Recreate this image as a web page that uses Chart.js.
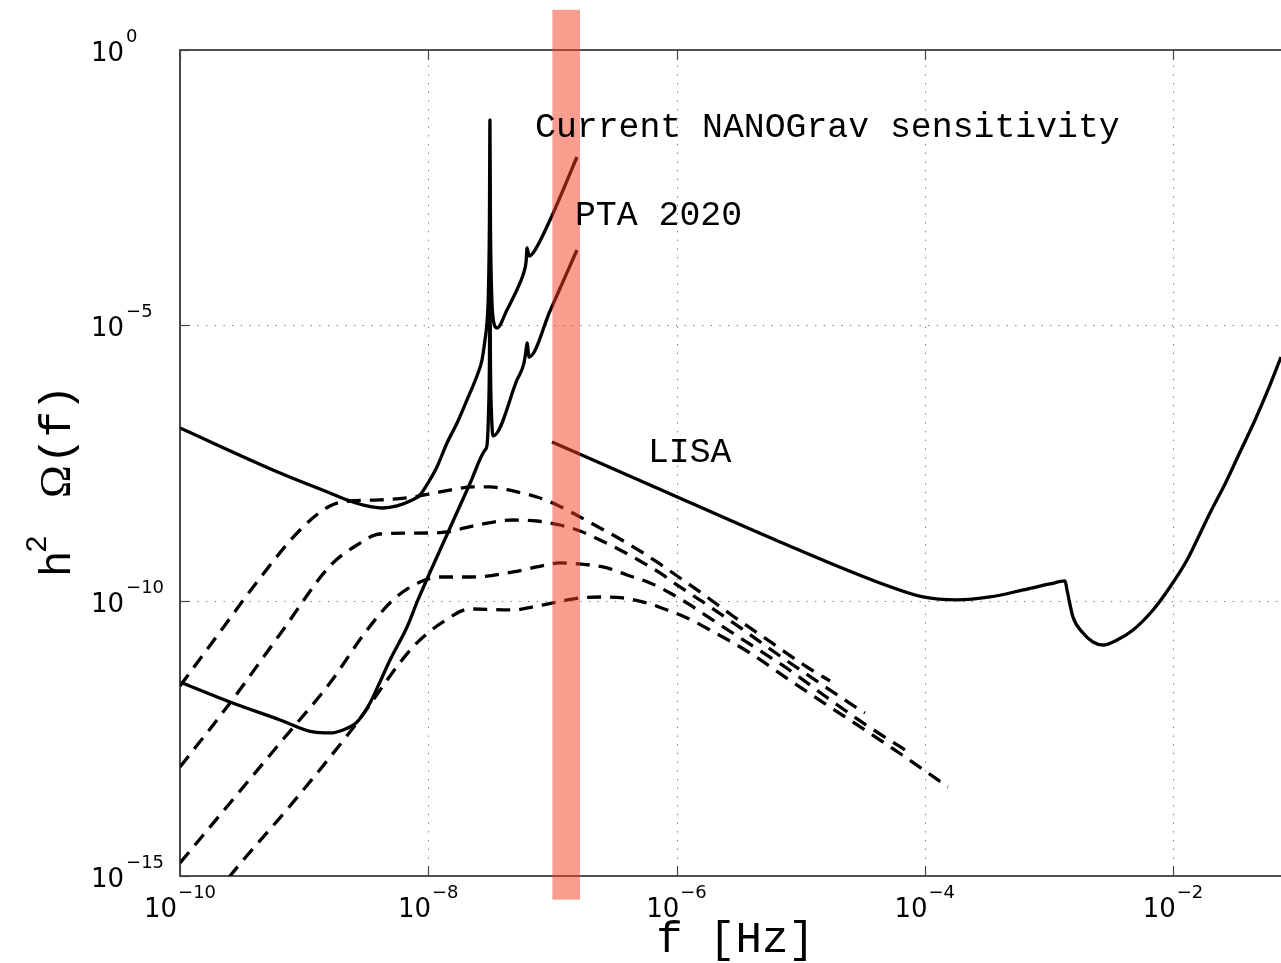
<!DOCTYPE html>
<html>
<head>
<meta charset="utf-8">
<script src="https://cdn.jsdelivr.net/npm/chart.js@4.4.1/dist/chart.umd.min.js"></script>
<style>
  html, body { margin: 0; padding: 0; background: #fff; overflow: hidden; }
  #wrap { position: relative; width: 1281px; height: 963px; }
</style>
</head>
<body>
<div id="wrap"><canvas id="c"></canvas></div>
<script>
// Curves as log10 f [Hz] and log10 h^2 Omega(f)

// Current NANOGrav sensitivity
const nanogravLogF = [-10.000, -9.194, -8.792, -8.630, -8.493, -8.365, -8.252, -8.147, -8.066, -8.002,
  -7.930, -7.849, -7.768, -7.688, -7.599, -7.567, -7.543, -7.527, -7.515, -7.507, -7.503, -7.499,
  -7.490, -7.478, -7.446, -7.366, -7.261, -7.229, -7.212, -7.204, -7.188, -7.156, -7.019, -6.802];
const nanogravLogOmega = [-6.864, -7.681, -8.044, -8.190, -8.280, -8.317, -8.280, -8.190, -8.081, -7.863,
  -7.572, -7.136, -6.773, -6.355, -5.865, -5.629, -5.266, -4.957, -4.358, -3.087, -1.271, -3.087,
  -4.358, -4.867, -5.048, -4.721, -4.231, -4.031, -3.850, -3.595, -3.741, -3.686, -3.087, -1.943];

// PTA 2020
const ptaLogF = [-10.000, -9.597, -9.194, -8.928, -8.792, -8.687, -8.574, -8.469, -8.389, -8.308,
  -8.171, -8.083, -7.825, -7.664, -7.543, -7.527, -7.515, -7.507, -7.503, -7.499, -7.490, -7.478,
  -7.285, -7.229, -7.212, -7.204, -7.188, -7.019, -6.802];
const ptaLogOmega = [-11.476, -11.840, -12.166, -12.384, -12.402, -12.348, -12.203, -11.858, -11.476, -11.077,
  -10.478, -9.987, -8.680, -7.872, -7.264, -7.182, -6.628, -5.629, -3.813, -5.629, -6.628, -7.009,
  -5.992, -5.684, -5.448, -5.320, -5.575, -4.739, -3.632];

// LISA
const lisaLogF = [-7.003, -6.213, -5.166, -4.361, -4.014, -3.740, -3.474, -3.208, -2.991, -2.870,
  -2.854, -2.806, -2.725, -2.645, -2.564, -2.451, -2.322, -2.161, -2.024, -1.887, -1.807, -1.702,
  -1.581, -1.460, -1.339, -1.235, -1.130];
const lisaLogOmega = [-7.118, -7.899, -8.934, -9.679, -9.933, -9.987, -9.933, -9.806, -9.697, -9.642,
  -9.806, -10.296, -10.587, -10.750, -10.805, -10.714, -10.532, -10.169, -9.751, -9.261, -8.898, -8.407,
  -7.881, -7.300, -6.719, -6.174, -5.575];

// Phase-transition spectra (dashed)
const spec1LogF = [-10.000, -9.678, -9.355, -9.033, -8.792, -8.630, -8.389, -8.123, -7.905, -7.639,
  -7.503, -7.317, -7.124, -6.963, -6.777, -6.616, -6.455, -6.294, -6.133, -5.972, -5.811, -5.545,
  -5.231, -4.924, -4.763];
const spec1LogOmega = [-11.549, -10.568, -9.588, -8.716, -8.280, -8.190, -8.171, -8.117, -8.026, -7.935,
  -7.935, -8.008, -8.117, -8.262, -8.480, -8.680, -8.880, -9.098, -9.334, -9.588, -9.842, -10.278,
  -10.768, -11.241, -11.458];

const spec2LogF = [-10.000, -9.597, -9.170, -8.792, -8.574, -8.389, -8.010, -7.849, -7.607, -7.317,
  -7.124, -6.939, -6.777, -6.616, -6.455, -6.294, -6.133, -5.972, -5.787, -5.472, -5.166, -4.860,
  -4.546, -4.481];
const spec2LogOmega = [-13.020, -11.858, -10.532, -9.370, -8.989, -8.789, -8.771, -8.752, -8.626, -8.535,
  -8.553, -8.626, -8.734, -8.898, -9.079, -9.279, -9.497, -9.751, -10.024, -10.514, -11.005, -11.476,
  -11.948, -12.039];

const spec3LogF = [-10.000, -9.597, -9.194, -8.792, -8.493, -8.284, -8.066, -7.905, -7.639, -7.317,
  -7.124, -6.939, -6.777, -6.560, -6.399, -6.213, -6.052, -5.891, -5.746, -5.424, -5.102, -4.804,
  -4.497, -4.183, -4.119];
const spec3LogOmega = [-14.763, -13.674, -12.584, -11.495, -10.532, -9.987, -9.661, -9.570, -9.570, -9.479,
  -9.388, -9.315, -9.334, -9.406, -9.533, -9.679, -9.860, -10.078, -10.296, -10.768, -11.241, -11.731,
  -12.221, -12.675, -12.766];

const spec4LogF = [-9.718, -9.597, -9.114, -8.606, -8.123, -7.881, -7.664, -7.317, -7.156, -6.963,
  -6.777, -6.616, -6.431, -6.238, -6.076, -5.915, -5.730, -5.408, -5.102, -4.788, -4.481, -4.159, -3.813];
const spec4LogOmega = [-15.362, -15.000, -13.728, -12.312, -10.841, -10.387, -10.151, -10.169, -10.114, -10.024,
  -9.951, -9.933, -9.951, -10.042, -10.169, -10.314, -10.532, -10.950, -11.422, -11.894, -12.348, -12.838, -13.383];

// Axis ranges and ticks (decade exponents)
const xRangeLog = [-10, -1.13];
const yRangeLog = [-15, 0];
const xTickExponents = [-10, -8, -6, -4, -2];
const yTickExponents = [0, -5, -10, -15];

// Highlighted frequency band [Hz] and its vertical reach in Omega
const bandFreq = [1.0e-7, 1.67e-7];
const bandOmegaLog = [0.73, -15.43];

// Curve labels: text, log10 f of the left edge, log10 Omega of the baseline
const curveLabels = [
  { text: 'Current NANOGrav sensitivity', logF: -7.140, logOmega: -1.580 },
  { text: 'PTA 2020', logF: -6.818, logOmega: -3.178 },
  { text: 'LISA', logF: -6.230, logOmega: -7.481 }
];

const xTitle = 'f [Hz]';
const yTitleParts = ['h', '2', '\u03A9', '(f)'];

const toPoints = (lf, lo) => lf.map((v, i) => ({ x: Math.pow(10, v), y: Math.pow(10, lo[i]) }));

const MONO = "'Liberation Mono', 'Courier New', monospace";
const SERIF = "'Liberation Serif', 'DejaVu Serif', serif";
const SANS = "'DejaVu Sans', sans-serif";

function solid(points) {
  return {
    data: points, borderColor: '#000', borderWidth: 3.3, pointRadius: 0,
    cubicInterpolationMode: 'monotone', borderJoinStyle: 'round', borderCapStyle: 'butt', fill: false
  };
}
function dashed(points) {
  return Object.assign(solid(points), { borderDash: [14, 9] });
}

const decorations = {
  id: 'decorations',
  beforeDatasetsDraw(chart) {
    const { ctx, chartArea: a, scales: { x, y } } = chart;
    ctx.save();
    ctx.strokeStyle = 'rgba(0,0,0,0.55)';
    ctx.lineWidth = 1;
    ctx.setLineDash([1.3, 7.4]);
    xTickExponents.forEach(e => {
      const px = Math.round(x.getPixelForValue(Math.pow(10, e))) + 0.5;
      if (px <= a.left + 2) return;
      ctx.beginPath(); ctx.moveTo(px, a.bottom); ctx.lineTo(px, a.top); ctx.stroke();
    });
    yTickExponents.forEach(e => {
      const py = Math.round(y.getPixelForValue(Math.pow(10, e))) + 0.5;
      if (py <= a.top + 2 || py >= a.bottom - 2) return;
      ctx.beginPath(); ctx.moveTo(a.left, py); ctx.lineTo(a.right, py); ctx.stroke();
    });
    ctx.restore();
  },
  afterDatasetsDraw(chart) {
    const { ctx, chartArea: a, scales: { x, y } } = chart;
    ctx.save();
    // axes box
    ctx.setLineDash([]);
    ctx.strokeStyle = '#1a1a1a';
    ctx.lineWidth = 1.6;
    ctx.beginPath();
    ctx.moveTo(a.right + 2, a.top); ctx.lineTo(a.left, a.top); ctx.lineTo(a.left, a.bottom); ctx.lineTo(a.right + 2, a.bottom);
    ctx.stroke();
    // inward tick marks
    ctx.strokeStyle = '#444';
    ctx.lineWidth = 1.2;
    const tl = 10;
    xTickExponents.forEach(e => {
      const px = Math.round(x.getPixelForValue(Math.pow(10, e))) + 0.5;
      ctx.beginPath(); ctx.moveTo(px, a.bottom); ctx.lineTo(px, a.bottom - tl);
      ctx.moveTo(px, a.top); ctx.lineTo(px, a.top + tl); ctx.stroke();
    });
    yTickExponents.forEach(e => {
      const py = Math.round(y.getPixelForValue(Math.pow(10, e))) + 0.5;
      ctx.beginPath(); ctx.moveTo(a.left, py); ctx.lineTo(a.left + tl, py); ctx.stroke();
    });
    // highlighted band
    const bx0 = x.getPixelForValue(bandFreq[0]);
    const bx1 = x.getPixelForValue(bandFreq[1]);
    const by0 = y.getPixelForValue(Math.pow(10, bandOmegaLog[0]));
    const by1 = y.getPixelForValue(Math.pow(10, bandOmegaLog[1]));
    ctx.fillStyle = 'rgba(245, 60, 30, 0.5)';
    ctx.fillRect(bx0, by0, bx1 - bx0, by1 - by0);

    // curve labels
    ctx.fillStyle = '#000';
    ctx.font = '34.8px ' + MONO;
    ctx.textAlign = 'left';
    ctx.textBaseline = 'alphabetic';
    curveLabels.forEach(l => {
      ctx.fillText(l.text, x.getPixelForValue(Math.pow(10, l.logF)), y.getPixelForValue(Math.pow(10, l.logOmega)));
    });

    // tick labels: 10 with raised exponent
    const big = '26px ' + SANS, small = '18px ' + SANS;
    const expText = e => (e < 0 ? '\u2212' + (-e) : String(e));
    xTickExponents.forEach(e => {
      const px = x.getPixelForValue(Math.pow(10, e));
      ctx.font = big; const w1 = ctx.measureText('10').width;
      ctx.font = small; const w2 = ctx.measureText(expText(e)).width;
      const x0 = px - (w1 + 1 + w2) / 2;
      ctx.font = big; ctx.fillText('10', x0, a.bottom + 41);
      ctx.font = small; ctx.fillText(expText(e), x0 + w1 + 1, a.bottom + 22);
    });
    yTickExponents.forEach(e => {
      const py = y.getPixelForValue(Math.pow(10, e));
      const x0 = 91;
      ctx.font = big; const w1 = ctx.measureText('10').width;
      ctx.fillText('10', x0, py + 11);
      ctx.font = small; ctx.fillText(expText(e), x0 + w1 + 2, py - 8);
    });

    // axis titles
    ctx.font = '44px ' + MONO;
    ctx.textAlign = 'center';
    ctx.fillText(xTitle, (a.left + a.right) / 2 + 5, a.bottom + 76);

    ctx.save();
    ctx.translate(70, (a.top + a.bottom) / 2 + 114);
    ctx.rotate(-Math.PI / 2);
    ctx.textAlign = 'left';
    ctx.font = '44px ' + MONO;
    ctx.fillText(yTitleParts[0], 0, 0);
    ctx.font = '30px ' + MONO;
    ctx.fillText(yTitleParts[1], 24, -24);
    ctx.font = '44px ' + SERIF;
    ctx.fillText(yTitleParts[2], 79, 0);
    ctx.font = '44px ' + MONO;
    ctx.fillText(yTitleParts[3], 113, 0);
    ctx.restore();

    ctx.restore();
  }
};

new Chart(document.getElementById('c'), {
  type: 'line',
  data: {
    datasets: [
      solid(toPoints(nanogravLogF, nanogravLogOmega)),
      solid(toPoints(ptaLogF, ptaLogOmega)),
      solid(toPoints(lisaLogF, lisaLogOmega)),
      dashed(toPoints(spec1LogF, spec1LogOmega)),
      dashed(toPoints(spec2LogF, spec2LogOmega)),
      dashed(toPoints(spec3LogF, spec3LogOmega)),
      dashed(toPoints(spec4LogF, spec4LogOmega))
    ]
  },
  options: {
    responsive: true,
    maintainAspectRatio: false,
    animation: false,
    events: [],
    layout: { padding: { left: 180, top: 50, right: 0, bottom: 87 } },
    plugins: { legend: { display: false }, tooltip: { enabled: false } },
    scales: {
      x: { type: 'logarithmic', display: false, min: Math.pow(10, xRangeLog[0]), max: Math.pow(10, xRangeLog[1]) },
      y: { type: 'logarithmic', display: false, min: Math.pow(10, yRangeLog[0]), max: Math.pow(10, yRangeLog[1]) }
    }
  },
  plugins: [decorations]
});
</script>
</body>
</html>
